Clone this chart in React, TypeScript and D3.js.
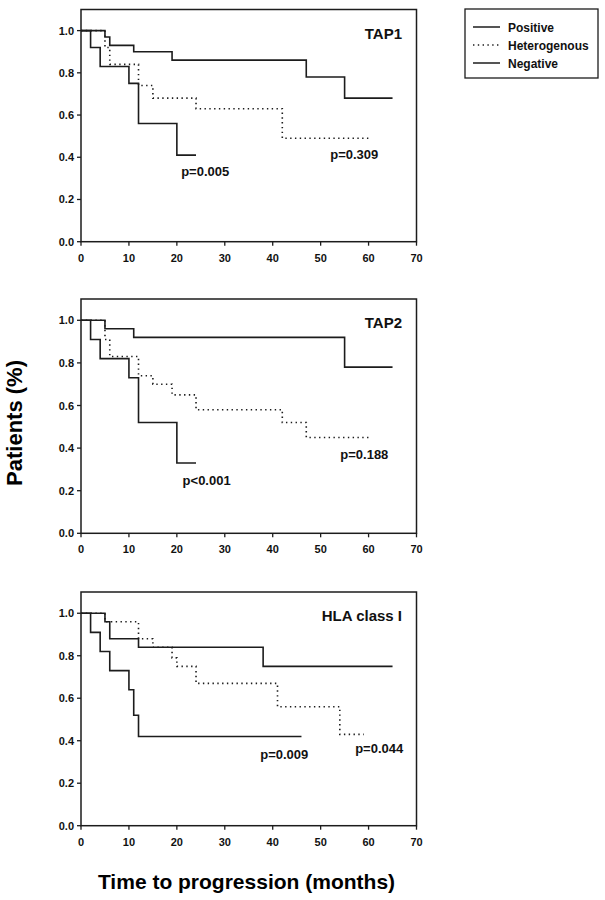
import React from "react";
import * as d3 from "d3";

// ---- Data ----
const xTicks = [0, 10, 20, 30, 40, 50, 60, 70];
const yTicks = [0, 0.2, 0.4, 0.6, 0.8, 1.0];
const seriesNames = ["Positive", "Heterogenous", "Negative"];
const panelTitles = ["TAP1", "TAP2", "HLA class I"];

// TAP1
const tap1PosT = [0, 5, 6, 11, 19, 47, 55, 65];
const tap1PosS = [1, 0.97, 0.93, 0.9, 0.86, 0.78, 0.68, 0.68];
const tap1HetT = [0, 5, 6, 12, 15, 24, 42, 60];
const tap1HetS = [1, 0.92, 0.84, 0.74, 0.68, 0.63, 0.49, 0.49];
const tap1NegT = [0, 2, 4, 10, 12, 20, 24];
const tap1NegS = [1, 0.92, 0.83, 0.75, 0.56, 0.41, 0.41];

// TAP2
const tap2PosT = [0, 5, 11, 55, 65];
const tap2PosS = [1, 0.96, 0.92, 0.78, 0.78];
const tap2HetT = [0, 5, 6, 12, 15, 19, 24, 42, 47, 60];
const tap2HetS = [1, 0.91, 0.83, 0.74, 0.7, 0.65, 0.58, 0.52, 0.45, 0.45];
const tap2NegT = [0, 2, 4, 10, 12, 20, 24];
const tap2NegS = [1, 0.91, 0.82, 0.73, 0.52, 0.33, 0.33];

// HLA class I
const hlaPosT = [0, 5, 6, 12, 38, 65];
const hlaPosS = [1, 0.96, 0.88, 0.84, 0.75, 0.75];
const hlaHetT = [0, 5, 12, 15, 19, 20, 24, 41, 54, 59];
const hlaHetS = [1, 0.96, 0.88, 0.84, 0.79, 0.75, 0.67, 0.56, 0.43, 0.43];
const hlaNegT = [0, 2, 4, 6, 10, 11, 12, 46];
const hlaNegS = [1, 0.91, 0.82, 0.73, 0.64, 0.52, 0.42, 0.42];

// p-value labels (month, survival at baseline)
const tap1PLabels = ["p=0.005", "p=0.309"];
const tap1PT = [20.9, 52.0];
const tap1PS = [0.31, 0.39];
const tap2PLabels = ["p<0.001", "p=0.188"];
const tap2PT = [21.2, 54.1];
const tap2PS = [0.226, 0.35];
const hlaPLabels = ["p=0.009", "p=0.044"];
const hlaPT = [37.4, 57.2];
const hlaPS = [0.312, 0.34];

const FONT = "'Liberation Sans', Arial, Helvetica, sans-serif";
const INK = "#1c1c1c";

type Panel = {
  title: string;
  top: number;
  bottom: number;
  series: { t: number[]; s: number[]; dotted: boolean }[];
  labels: { text: string; t: number; s: number }[];
};

const panels: Panel[] = [
  {
    title: panelTitles[0],
    top: 9.5,
    bottom: 241.7,
    series: [
      { t: tap1PosT, s: tap1PosS, dotted: false },
      { t: tap1HetT, s: tap1HetS, dotted: true },
      { t: tap1NegT, s: tap1NegS, dotted: false },
    ],
    labels: tap1PLabels.map((text, i) => ({ text, t: tap1PT[i], s: tap1PS[i] })),
  },
  {
    title: panelTitles[1],
    top: 299,
    bottom: 533.3,
    series: [
      { t: tap2PosT, s: tap2PosS, dotted: false },
      { t: tap2HetT, s: tap2HetS, dotted: true },
      { t: tap2NegT, s: tap2NegS, dotted: false },
    ],
    labels: tap2PLabels.map((text, i) => ({ text, t: tap2PT[i], s: tap2PS[i] })),
  },
  {
    title: panelTitles[2],
    top: 592,
    bottom: 825.7,
    series: [
      { t: hlaPosT, s: hlaPosS, dotted: false },
      { t: hlaHetT, s: hlaHetS, dotted: true },
      { t: hlaNegT, s: hlaNegS, dotted: false },
    ],
    labels: hlaPLabels.map((text, i) => ({ text, t: hlaPT[i], s: hlaPS[i] })),
  },
];

const X0 = 81;
const X1 = 416.5;

function PanelView({ p }: { p: Panel }) {
  const x = d3.scaleLinear().domain([0, 70]).range([X0, X1]);
  const y = d3.scaleLinear().domain([0, 1.1]).range([p.bottom, p.top]);
  const line = d3
    .line<[number, number]>()
    .x((d) => x(d[0]))
    .y((d) => y(d[1]))
    .curve(d3.curveStepAfter);
  return (
    <g>
      {p.series.map((se, i) => {
        const pts = se.t.map((t, j) => [t, se.s[j]] as [number, number]);
        return (
          <path
            key={i}
            d={line(pts) || ""}
            fill="none"
            stroke={INK}
            strokeWidth={se.dotted ? 1.6 : 1.6}
            strokeDasharray={se.dotted ? "1.4 3.4" : undefined}
          />
        );
      })}
      <rect
        x={X0}
        y={p.top}
        width={X1 - X0}
        height={p.bottom - p.top}
        fill="none"
        stroke={INK}
        strokeWidth={1.5}
      />
      {yTicks.map((v) => (
        <g key={"y" + v}>
          <line x1={X0 - 4} x2={X0} y1={y(v)} y2={y(v)} stroke={INK} strokeWidth={1.3} />
          <text
            x={X0 - 7}
            y={y(v) + 4}
            textAnchor="end"
            fontSize={11}
            fontWeight="bold"
            fontFamily={FONT}
            fill="#111"
          >
            {v.toFixed(1)}
          </text>
        </g>
      ))}
      {xTicks.map((v) => (
        <g key={"x" + v}>
          <line x1={x(v)} x2={x(v)} y1={p.bottom} y2={p.bottom + 4} stroke={INK} strokeWidth={1.3} />
          <text
            x={x(v)}
            y={p.bottom + 20}
            textAnchor="middle"
            fontSize={11}
            fontWeight="bold"
            fontFamily={FONT}
            fill="#111"
          >
            {v}
          </text>
        </g>
      ))}
      <text
        x={402}
        y={y(1.0) + 8}
        textAnchor="end"
        fontSize={15}
        fontWeight="bold"
        fontFamily={FONT}
        fill="#111"
      >
        {p.title}
      </text>
      {p.labels.map((l, i) => (
        <text
          key={i}
          x={x(l.t)}
          y={y(l.s)}
          fontSize={13}
          fontWeight="bold"
          fontFamily={FONT}
          fill="#111"
        >
          {l.text}
        </text>
      ))}
    </g>
  );
}

export default function App() {
  const legendRows = [27, 45, 63];
  return (
    <svg
      width={605}
      height={900}
      style={{ position: "absolute", left: 0, top: 0, background: "#fff" }}
    >
      <rect x={0} y={0} width={605} height={900} fill="#fff" />
      {panels.map((p, i) => (
        <PanelView key={i} p={p} />
      ))}
      {/* legend */}
      <rect x={465} y={9} width={133} height={69} fill="none" stroke={INK} strokeWidth={1.3} />
      {seriesNames.map((n, i) => (
        <g key={n}>
          <line
            x1={473}
            x2={500}
            y1={legendRows[i]}
            y2={legendRows[i]}
            stroke={INK}
            strokeWidth={1.5}
            strokeDasharray={i === 1 ? "1.4 3.4" : undefined}
          />
          <text
            x={508}
            y={legendRows[i] + 4.5}
            fontSize={12}
            fontWeight="bold"
            fontFamily={FONT}
            fill="#111"
          >
            {n}
          </text>
        </g>
      ))}
      <text
        x={246.5}
        y={889}
        textAnchor="middle"
        fontSize={21}
        fontWeight="bold"
        fontFamily={FONT}
        fill="#000"
      >
        Time to progression (months)
      </text>
      <text
        transform="translate(22,423) rotate(-90)"
        textAnchor="middle"
        fontSize={22}
        fontWeight="bold"
        fontFamily={FONT}
        fill="#000"
      >
        Patients (%)
      </text>
    </svg>
  );
}
